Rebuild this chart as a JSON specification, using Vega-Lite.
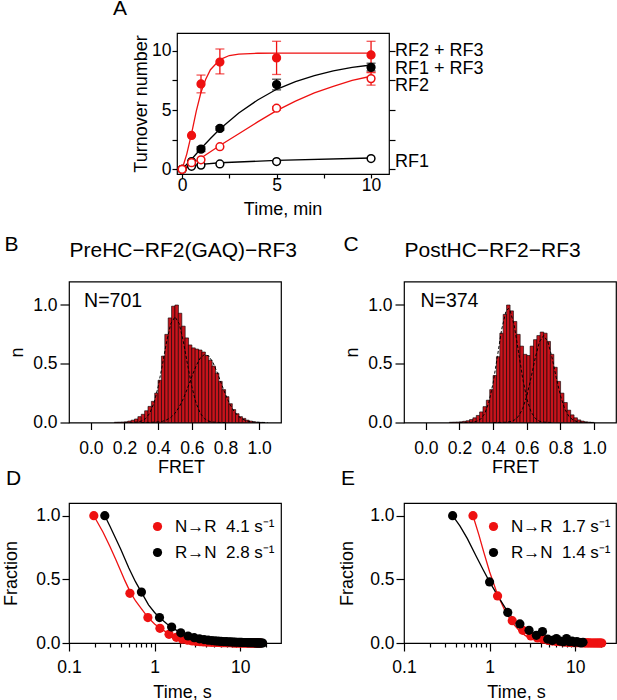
{
  "$schema": "https://vega.github.io/schema/vega-lite/v6.json",
  "background": "white",
  "padding": {"left": 1, "top": -3, "right": 0, "bottom": 0},
  "spacing": 13.5,
  "resolve": {"scale": {"x": "independent", "y": "independent", "color": "independent", "stroke": "independent", "fill": "independent"}},
  "datasets": {
    "fitA": [
      {"s": "RF2 + RF3", "t": 0, "v": 0}, {"s": "RF2 + RF3", "t": 0.25, "v": 1.3}, {"s": "RF2 + RF3", "t": 0.5, "v": 3.0},
      {"s": "RF2 + RF3", "t": 0.75, "v": 4.9}, {"s": "RF2 + RF3", "t": 1, "v": 6.5}, {"s": "RF2 + RF3", "t": 1.25, "v": 7.6},
      {"s": "RF2 + RF3", "t": 1.5, "v": 8.4}, {"s": "RF2 + RF3", "t": 2, "v": 9.25}, {"s": "RF2 + RF3", "t": 2.5, "v": 9.6},
      {"s": "RF2 + RF3", "t": 3, "v": 9.72}, {"s": "RF2 + RF3", "t": 4, "v": 9.79}, {"s": "RF2 + RF3", "t": 5, "v": 9.8},
      {"s": "RF2 + RF3", "t": 10, "v": 9.8},
      {"s": "RF1 + RF3", "t": 0, "v": 0}, {"s": "RF1 + RF3", "t": 0.5, "v": 0.85}, {"s": "RF1 + RF3", "t": 1, "v": 1.75},
      {"s": "RF1 + RF3", "t": 1.5, "v": 2.6}, {"s": "RF1 + RF3", "t": 2, "v": 3.4}, {"s": "RF1 + RF3", "t": 3, "v": 4.75},
      {"s": "RF1 + RF3", "t": 4, "v": 5.85}, {"s": "RF1 + RF3", "t": 5, "v": 6.75}, {"s": "RF1 + RF3", "t": 6, "v": 7.4},
      {"s": "RF1 + RF3", "t": 7, "v": 7.9}, {"s": "RF1 + RF3", "t": 8, "v": 8.3}, {"s": "RF1 + RF3", "t": 9, "v": 8.6},
      {"s": "RF1 + RF3", "t": 10, "v": 8.8},
      {"s": "RF2", "t": 0, "v": 0}, {"s": "RF2", "t": 0.5, "v": 0.45}, {"s": "RF2", "t": 1, "v": 0.95}, {"s": "RF2", "t": 2, "v": 2.0},
      {"s": "RF2", "t": 3, "v": 3.0}, {"s": "RF2", "t": 4, "v": 4.0}, {"s": "RF2", "t": 5, "v": 4.95}, {"s": "RF2", "t": 6, "v": 5.75},
      {"s": "RF2", "t": 7, "v": 6.45}, {"s": "RF2", "t": 8, "v": 7.0}, {"s": "RF2", "t": 9, "v": 7.5}, {"s": "RF2", "t": 10, "v": 7.85},
      {"s": "RF1", "t": 0, "v": 0}, {"s": "RF1", "t": 0.5, "v": 0.3}, {"s": "RF1", "t": 1, "v": 0.42}, {"s": "RF1", "t": 2, "v": 0.55},
      {"s": "RF1", "t": 5, "v": 0.75}, {"s": "RF1", "t": 10, "v": 0.95}
    ],
    "ptsA": [
      {"s": "RF1", "t": 0, "v": 0}, {"s": "RF1", "t": 0.5, "v": 0.25}, {"s": "RF1", "t": 1, "v": 0.35}, {"s": "RF1", "t": 2, "v": 0.45},
      {"s": "RF1", "t": 5, "v": 0.65}, {"s": "RF1", "t": 10, "v": 0.9},
      {"s": "RF1 + RF3", "t": 0, "v": 0}, {"s": "RF1 + RF3", "t": 0.5, "v": 0.65}, {"s": "RF1 + RF3", "t": 1, "v": 1.7},
      {"s": "RF1 + RF3", "t": 2, "v": 3.45}, {"s": "RF1 + RF3", "t": 5, "v": 7.15}, {"s": "RF1 + RF3", "t": 10, "v": 8.6},
      {"s": "RF2 + RF3", "t": 0, "v": 0}, {"s": "RF2 + RF3", "t": 0.5, "v": 2.85}, {"s": "RF2 + RF3", "t": 1, "v": 7.2},
      {"s": "RF2 + RF3", "t": 2, "v": 9.05}, {"s": "RF2 + RF3", "t": 5, "v": 9.4}, {"s": "RF2 + RF3", "t": 10, "v": 9.65},
      {"s": "RF2", "t": 0, "v": 0}, {"s": "RF2", "t": 0.5, "v": 0.55}, {"s": "RF2", "t": 1, "v": 0.8}, {"s": "RF2", "t": 2, "v": 1.9},
      {"s": "RF2", "t": 5, "v": 5.15}, {"s": "RF2", "t": 10, "v": 7.65}
    ],
    "errA": [
      {"s": "RF2 + RF3", "t": 1, "lo": 6.45, "hi": 7.95}, {"s": "RF2 + RF3", "t": 2, "lo": 8.05, "hi": 10.15},
      {"s": "RF2 + RF3", "t": 5, "lo": 8.0, "hi": 10.8}, {"s": "RF2 + RF3", "t": 10, "lo": 8.15, "hi": 10.8},
      {"s": "RF1 + RF3", "t": 1, "lo": 1.5, "hi": 1.9}, {"s": "RF1 + RF3", "t": 2, "lo": 3.3, "hi": 3.6},
      {"s": "RF1 + RF3", "t": 5, "lo": 6.7, "hi": 7.6}, {"s": "RF1 + RF3", "t": 10, "lo": 8.3, "hi": 8.95},
      {"s": "RF2", "t": 5, "lo": 5.0, "hi": 5.3}, {"s": "RF2", "t": 10, "lo": 7.1, "hi": 8.2}
    ],
    "labA": [
      {"label": "RF2 + RF3", "v": 10.0}, {"label": "RF1 + RF3", "v": 8.45}, {"label": "RF2", "v": 7.05}, {"label": "RF1", "v": 0.65}
    ],
    "histB": [
      {"x": 0.15, "n": 0.002}, {"x": 0.17, "n": 0.003}, {"x": 0.19, "n": 0.004}, {"x": 0.21, "n": 0.006}, {"x": 0.23, "n": 0.012},
      {"x": 0.25, "n": 0.02}, {"x": 0.27, "n": 0.03}, {"x": 0.29, "n": 0.05}, {"x": 0.31, "n": 0.07}, {"x": 0.33, "n": 0.1},
      {"x": 0.35, "n": 0.137}, {"x": 0.37, "n": 0.18}, {"x": 0.39, "n": 0.25}, {"x": 0.41, "n": 0.36}, {"x": 0.43, "n": 0.565},
      {"x": 0.45, "n": 0.75}, {"x": 0.47, "n": 0.89}, {"x": 0.49, "n": 0.99}, {"x": 0.51, "n": 1.0}, {"x": 0.53, "n": 0.93},
      {"x": 0.55, "n": 0.82}, {"x": 0.57, "n": 0.72}, {"x": 0.59, "n": 0.66}, {"x": 0.61, "n": 0.635}, {"x": 0.63, "n": 0.625},
      {"x": 0.65, "n": 0.617}, {"x": 0.67, "n": 0.6}, {"x": 0.69, "n": 0.57}, {"x": 0.71, "n": 0.53}, {"x": 0.73, "n": 0.48},
      {"x": 0.75, "n": 0.42}, {"x": 0.77, "n": 0.35}, {"x": 0.79, "n": 0.28}, {"x": 0.81, "n": 0.22}, {"x": 0.83, "n": 0.16},
      {"x": 0.85, "n": 0.11}, {"x": 0.87, "n": 0.075}, {"x": 0.89, "n": 0.05}, {"x": 0.91, "n": 0.035}, {"x": 0.93, "n": 0.02},
      {"x": 0.95, "n": 0.012}, {"x": 0.97, "n": 0.006}, {"x": 0.99, "n": 0.003}, {"x": 1.01, "n": 0.001}
    ],
    "gaussB": [
      {"c": "g1", "x": 0.2, "g": 0}, {"c": "g1", "x": 0.25, "g": 0.001}, {"c": "g1", "x": 0.275, "g": 0.004}, {"c": "g1", "x": 0.3, "g": 0.012},
      {"c": "g1", "x": 0.325, "g": 0.033}, {"c": "g1", "x": 0.35, "g": 0.079}, {"c": "g1", "x": 0.375, "g": 0.166}, {"c": "g1", "x": 0.4, "g": 0.305},
      {"c": "g1", "x": 0.425, "g": 0.49}, {"c": "g1", "x": 0.45, "g": 0.687}, {"c": "g1", "x": 0.475, "g": 0.841}, {"c": "g1", "x": 0.5, "g": 0.9},
      {"c": "g1", "x": 0.525, "g": 0.841}, {"c": "g1", "x": 0.55, "g": 0.687}, {"c": "g1", "x": 0.575, "g": 0.49}, {"c": "g1", "x": 0.6, "g": 0.305},
      {"c": "g1", "x": 0.625, "g": 0.166}, {"c": "g1", "x": 0.65, "g": 0.079}, {"c": "g1", "x": 0.675, "g": 0.033}, {"c": "g1", "x": 0.7, "g": 0.012},
      {"c": "g1", "x": 0.725, "g": 0.004}, {"c": "g1", "x": 0.75, "g": 0.001}, {"c": "g1", "x": 0.8, "g": 0},
      {"c": "g2", "x": 0.3, "g": 0}, {"c": "g2", "x": 0.35, "g": 0.001}, {"c": "g2", "x": 0.4, "g": 0.005}, {"c": "g2", "x": 0.425, "g": 0.01},
      {"c": "g2", "x": 0.45, "g": 0.022}, {"c": "g2", "x": 0.475, "g": 0.043}, {"c": "g2", "x": 0.5, "g": 0.078}, {"c": "g2", "x": 0.525, "g": 0.132},
      {"c": "g2", "x": 0.55, "g": 0.204}, {"c": "g2", "x": 0.575, "g": 0.294}, {"c": "g2", "x": 0.6, "g": 0.391}, {"c": "g2", "x": 0.625, "g": 0.481},
      {"c": "g2", "x": 0.65, "g": 0.549}, {"c": "g2", "x": 0.675, "g": 0.579}, {"c": "g2", "x": 0.7, "g": 0.566}, {"c": "g2", "x": 0.725, "g": 0.512},
      {"c": "g2", "x": 0.75, "g": 0.429}, {"c": "g2", "x": 0.775, "g": 0.332}, {"c": "g2", "x": 0.8, "g": 0.238}, {"c": "g2", "x": 0.825, "g": 0.158},
      {"c": "g2", "x": 0.85, "g": 0.097}, {"c": "g2", "x": 0.875, "g": 0.055}, {"c": "g2", "x": 0.9, "g": 0.029}, {"c": "g2", "x": 0.925, "g": 0.014},
      {"c": "g2", "x": 0.95, "g": 0.006}, {"c": "g2", "x": 0.975, "g": 0.003}, {"c": "g2", "x": 1.0, "g": 0.001}, {"c": "g2", "x": 1.05, "g": 0}
    ],
    "histC": [
      {"x": 0.15, "n": 0.002}, {"x": 0.17, "n": 0.003}, {"x": 0.19, "n": 0.004}, {"x": 0.21, "n": 0.006}, {"x": 0.23, "n": 0.01},
      {"x": 0.25, "n": 0.015}, {"x": 0.27, "n": 0.025}, {"x": 0.29, "n": 0.04}, {"x": 0.31, "n": 0.06}, {"x": 0.33, "n": 0.09},
      {"x": 0.35, "n": 0.135}, {"x": 0.37, "n": 0.19}, {"x": 0.39, "n": 0.28}, {"x": 0.41, "n": 0.4}, {"x": 0.43, "n": 0.56},
      {"x": 0.45, "n": 0.76}, {"x": 0.47, "n": 0.92}, {"x": 0.49, "n": 1.0}, {"x": 0.51, "n": 0.95}, {"x": 0.53, "n": 0.86},
      {"x": 0.55, "n": 0.75}, {"x": 0.57, "n": 0.65}, {"x": 0.59, "n": 0.58}, {"x": 0.61, "n": 0.57}, {"x": 0.63, "n": 0.65},
      {"x": 0.65, "n": 0.705}, {"x": 0.67, "n": 0.74}, {"x": 0.69, "n": 0.77}, {"x": 0.71, "n": 0.76}, {"x": 0.73, "n": 0.69},
      {"x": 0.75, "n": 0.58}, {"x": 0.77, "n": 0.47}, {"x": 0.79, "n": 0.35}, {"x": 0.81, "n": 0.25}, {"x": 0.83, "n": 0.17},
      {"x": 0.85, "n": 0.105}, {"x": 0.87, "n": 0.065}, {"x": 0.89, "n": 0.04}, {"x": 0.91, "n": 0.022}, {"x": 0.93, "n": 0.012},
      {"x": 0.95, "n": 0.006}, {"x": 0.97, "n": 0.003}, {"x": 0.99, "n": 0.001}
    ],
    "gaussC": [
      {"c": "g1", "x": 0.2, "g": 0}, {"c": "g1", "x": 0.25, "g": 0.001}, {"c": "g1", "x": 0.275, "g": 0.002}, {"c": "g1", "x": 0.3, "g": 0.009},
      {"c": "g1", "x": 0.325, "g": 0.028}, {"c": "g1", "x": 0.35, "g": 0.076}, {"c": "g1", "x": 0.375, "g": 0.174}, {"c": "g1", "x": 0.4, "g": 0.338},
      {"c": "g1", "x": 0.425, "g": 0.56}, {"c": "g1", "x": 0.45, "g": 0.788}, {"c": "g1", "x": 0.475, "g": 0.942}, {"c": "g1", "x": 0.49, "g": 0.97},
      {"c": "g1", "x": 0.5, "g": 0.957}, {"c": "g1", "x": 0.525, "g": 0.827}, {"c": "g1", "x": 0.55, "g": 0.607}, {"c": "g1", "x": 0.575, "g": 0.379},
      {"c": "g1", "x": 0.6, "g": 0.201}, {"c": "g1", "x": 0.625, "g": 0.091}, {"c": "g1", "x": 0.65, "g": 0.035}, {"c": "g1", "x": 0.675, "g": 0.011},
      {"c": "g1", "x": 0.7, "g": 0.003}, {"c": "g1", "x": 0.75, "g": 0},
      {"c": "g2", "x": 0.4, "g": 0}, {"c": "g2", "x": 0.45, "g": 0.001}, {"c": "g2", "x": 0.475, "g": 0.002}, {"c": "g2", "x": 0.5, "g": 0.007},
      {"c": "g2", "x": 0.525, "g": 0.02}, {"c": "g2", "x": 0.55, "g": 0.052}, {"c": "g2", "x": 0.575, "g": 0.116}, {"c": "g2", "x": 0.6, "g": 0.227},
      {"c": "g2", "x": 0.625, "g": 0.38}, {"c": "g2", "x": 0.65, "g": 0.55}, {"c": "g2", "x": 0.675, "g": 0.687}, {"c": "g2", "x": 0.7, "g": 0.74},
      {"c": "g2", "x": 0.725, "g": 0.687}, {"c": "g2", "x": 0.75, "g": 0.55}, {"c": "g2", "x": 0.775, "g": 0.38}, {"c": "g2", "x": 0.8, "g": 0.227},
      {"c": "g2", "x": 0.825, "g": 0.116}, {"c": "g2", "x": 0.85, "g": 0.052}, {"c": "g2", "x": 0.875, "g": 0.02}, {"c": "g2", "x": 0.9, "g": 0.007},
      {"c": "g2", "x": 0.925, "g": 0.002}, {"c": "g2", "x": 0.95, "g": 0}, {"c": "g2", "x": 1.0, "g": 0}
    ],
    "ptsD": [
      {"s": "N→R", "t": 0.195, "v": 1.0}, {"s": "N→R", "t": 0.515, "v": 0.39}, {"s": "N→R", "t": 0.835, "v": 0.2}, {"s": "N→R", "t": 1.155, "v": 0.115},
      {"s": "N→R", "t": 1.475, "v": 0.068}, {"s": "N→R", "t": 1.795, "v": 0.045}, {"s": "N→R", "t": 2.115, "v": 0.03}, {"s": "N→R", "t": 2.435, "v": 0.022},
      {"s": "N→R", "t": 2.755, "v": 0.016}, {"s": "N→R", "t": 3.075, "v": 0.012}, {"s": "N→R", "t": 3.395, "v": 0.01}, {"s": "N→R", "t": 3.715, "v": 0.008},
      {"s": "N→R", "t": 4.035, "v": 0.007}, {"s": "N→R", "t": 4.355, "v": 0.006}, {"s": "N→R", "t": 4.675, "v": 0.005}, {"s": "N→R", "t": 4.995, "v": 0.005},
      {"s": "N→R", "t": 5.315, "v": 0.004}, {"s": "N→R", "t": 5.635, "v": 0.004}, {"s": "N→R", "t": 5.955, "v": 0.003}, {"s": "N→R", "t": 6.275, "v": 0.003},
      {"s": "N→R", "t": 6.595, "v": 0.003}, {"s": "N→R", "t": 6.915, "v": 0.002}, {"s": "N→R", "t": 7.235, "v": 0.002}, {"s": "N→R", "t": 7.555, "v": 0.002},
      {"s": "N→R", "t": 7.875, "v": 0.002}, {"s": "N→R", "t": 8.195, "v": 0.001}, {"s": "N→R", "t": 8.515, "v": 0.001}, {"s": "N→R", "t": 8.835, "v": 0.001},
      {"s": "N→R", "t": 9.155, "v": 0.001}, {"s": "N→R", "t": 9.475, "v": 0.001}, {"s": "N→R", "t": 9.795, "v": 0.001}, {"s": "N→R", "t": 10.115, "v": 0.001},
      {"s": "N→R", "t": 10.435, "v": 0.001}, {"s": "N→R", "t": 10.755, "v": 0}, {"s": "N→R", "t": 11.075, "v": 0}, {"s": "N→R", "t": 11.395, "v": 0},
      {"s": "N→R", "t": 11.715, "v": 0}, {"s": "N→R", "t": 12.035, "v": 0}, {"s": "N→R", "t": 12.355, "v": 0}, {"s": "N→R", "t": 12.675, "v": 0},
      {"s": "N→R", "t": 12.995, "v": 0}, {"s": "N→R", "t": 13.315, "v": 0}, {"s": "N→R", "t": 13.635, "v": 0}, {"s": "N→R", "t": 13.955, "v": 0},
      {"s": "N→R", "t": 14.275, "v": 0}, {"s": "N→R", "t": 14.595, "v": 0}, {"s": "N→R", "t": 14.915, "v": 0}, {"s": "N→R", "t": 15.235, "v": 0},
      {"s": "N→R", "t": 15.555, "v": 0}, {"s": "N→R", "t": 15.875, "v": 0}, {"s": "N→R", "t": 16.195, "v": 0}, {"s": "N→R", "t": 16.515, "v": 0},
      {"s": "N→R", "t": 16.835, "v": 0}, {"s": "N→R", "t": 17.155, "v": 0},
      {"s": "R→N", "t": 0.262, "v": 1.0}, {"s": "R→N", "t": 0.702, "v": 0.4}, {"s": "R→N", "t": 1.142, "v": 0.2}, {"s": "R→N", "t": 1.582, "v": 0.125},
      {"s": "R→N", "t": 2.022, "v": 0.08}, {"s": "R→N", "t": 2.462, "v": 0.055}, {"s": "R→N", "t": 2.902, "v": 0.042}, {"s": "R→N", "t": 3.342, "v": 0.033},
      {"s": "R→N", "t": 3.782, "v": 0.027}, {"s": "R→N", "t": 4.222, "v": 0.022}, {"s": "R→N", "t": 4.662, "v": 0.019}, {"s": "R→N", "t": 5.102, "v": 0.016},
      {"s": "R→N", "t": 5.542, "v": 0.014}, {"s": "R→N", "t": 5.982, "v": 0.012}, {"s": "R→N", "t": 6.422, "v": 0.011}, {"s": "R→N", "t": 6.862, "v": 0.01},
      {"s": "R→N", "t": 7.302, "v": 0.009}, {"s": "R→N", "t": 7.742, "v": 0.008}, {"s": "R→N", "t": 8.182, "v": 0.007}, {"s": "R→N", "t": 8.622, "v": 0.007},
      {"s": "R→N", "t": 9.062, "v": 0.006}, {"s": "R→N", "t": 9.502, "v": 0.006}, {"s": "R→N", "t": 9.942, "v": 0.005}, {"s": "R→N", "t": 10.382, "v": 0.005},
      {"s": "R→N", "t": 10.822, "v": 0.004}, {"s": "R→N", "t": 11.262, "v": 0.004}, {"s": "R→N", "t": 11.702, "v": 0.004}, {"s": "R→N", "t": 12.142, "v": 0.003},
      {"s": "R→N", "t": 12.582, "v": 0.003}, {"s": "R→N", "t": 13.022, "v": 0.003}, {"s": "R→N", "t": 13.462, "v": 0.002}, {"s": "R→N", "t": 13.902, "v": 0.002},
      {"s": "R→N", "t": 14.342, "v": 0.002}, {"s": "R→N", "t": 14.782, "v": 0.002}, {"s": "R→N", "t": 15.222, "v": 0.001}, {"s": "R→N", "t": 15.662, "v": 0.001},
      {"s": "R→N", "t": 16.102, "v": 0.001}, {"s": "R→N", "t": 16.542, "v": 0.001}, {"s": "R→N", "t": 16.982, "v": 0}, {"s": "R→N", "t": 17.422, "v": 0},
      {"s": "R→N", "t": 17.862, "v": 0}, {"s": "R→N", "t": 18.302, "v": 0}
    ],
    "fitD": [
      {"s": "N→R", "t": 0.195, "v": 1.0}, {"s": "N→R", "t": 0.25, "v": 0.87}, {"s": "N→R", "t": 0.3, "v": 0.76}, {"s": "N→R", "t": 0.35, "v": 0.66},
      {"s": "N→R", "t": 0.4, "v": 0.57}, {"s": "N→R", "t": 0.45, "v": 0.49}, {"s": "N→R", "t": 0.52, "v": 0.4}, {"s": "N→R", "t": 0.6, "v": 0.33},
      {"s": "N→R", "t": 0.7, "v": 0.27}, {"s": "N→R", "t": 0.84, "v": 0.2}, {"s": "N→R", "t": 1.0, "v": 0.15}, {"s": "N→R", "t": 1.16, "v": 0.115},
      {"s": "N→R", "t": 1.5, "v": 0.07}, {"s": "N→R", "t": 2.0, "v": 0.035}, {"s": "N→R", "t": 2.5, "v": 0.018}, {"s": "N→R", "t": 3.0, "v": 0.01},
      {"s": "N→R", "t": 4.0, "v": 0.004}, {"s": "N→R", "t": 6.0, "v": 0.001}, {"s": "N→R", "t": 12.3, "v": 0},
      {"s": "R→N", "t": 0.262, "v": 1.0}, {"s": "R→N", "t": 0.3, "v": 0.92}, {"s": "R→N", "t": 0.4, "v": 0.74}, {"s": "R→N", "t": 0.5, "v": 0.59},
      {"s": "R→N", "t": 0.6, "v": 0.48}, {"s": "R→N", "t": 0.7, "v": 0.4}, {"s": "R→N", "t": 0.85, "v": 0.3}, {"s": "R→N", "t": 1.0, "v": 0.24},
      {"s": "R→N", "t": 1.14, "v": 0.2}, {"s": "R→N", "t": 1.4, "v": 0.15}, {"s": "R→N", "t": 1.58, "v": 0.125}, {"s": "R→N", "t": 2.0, "v": 0.08},
      {"s": "R→N", "t": 2.5, "v": 0.05}, {"s": "R→N", "t": 3.0, "v": 0.035}, {"s": "R→N", "t": 4.0, "v": 0.02}, {"s": "R→N", "t": 5.0, "v": 0.012},
      {"s": "R→N", "t": 7.0, "v": 0.006}, {"s": "R→N", "t": 10.0, "v": 0.003}, {"s": "R→N", "t": 14.0, "v": 0.001}, {"s": "R→N", "t": 18.3, "v": 0}
    ],
    "ptsE": [
      {"s": "N→R", "t": 0.64, "v": 1.0}, {"s": "N→R", "t": 1.24, "v": 0.37}, {"s": "N→R", "t": 1.84, "v": 0.175}, {"s": "N→R", "t": 2.44, "v": 0.1},
      {"s": "N→R", "t": 3.04, "v": 0.055}, {"s": "N→R", "t": 3.64, "v": 0.04}, {"s": "N→R", "t": 4.24, "v": 0.03}, {"s": "N→R", "t": 4.84, "v": 0.02},
      {"s": "N→R", "t": 5.44, "v": 0.015}, {"s": "N→R", "t": 6.04, "v": 0.012}, {"s": "N→R", "t": 6.64, "v": 0.01}, {"s": "N→R", "t": 7.24, "v": 0.008},
      {"s": "N→R", "t": 7.84, "v": 0.006}, {"s": "N→R", "t": 8.44, "v": 0.005}, {"s": "N→R", "t": 9.04, "v": 0.004}, {"s": "N→R", "t": 9.64, "v": 0.003},
      {"s": "N→R", "t": 10.24, "v": 0.003}, {"s": "N→R", "t": 10.84, "v": 0.002}, {"s": "N→R", "t": 11.44, "v": 0.002}, {"s": "N→R", "t": 12.04, "v": 0.002},
      {"s": "N→R", "t": 12.64, "v": 0.001}, {"s": "N→R", "t": 13.24, "v": 0.001}, {"s": "N→R", "t": 13.84, "v": 0.001}, {"s": "N→R", "t": 14.44, "v": 0.001},
      {"s": "N→R", "t": 15.04, "v": 0}, {"s": "N→R", "t": 15.64, "v": 0}, {"s": "N→R", "t": 16.24, "v": 0}, {"s": "N→R", "t": 16.84, "v": 0},
      {"s": "N→R", "t": 17.44, "v": 0}, {"s": "N→R", "t": 18.04, "v": 0}, {"s": "N→R", "t": 18.64, "v": 0}, {"s": "N→R", "t": 19.24, "v": 0},
      {"s": "N→R", "t": 19.84, "v": 0}, {"s": "N→R", "t": 20.44, "v": 0},
      {"s": "R→N", "t": 0.37, "v": 1.0}, {"s": "R→N", "t": 1.0, "v": 0.48}, {"s": "R→N", "t": 1.63, "v": 0.24}, {"s": "R→N", "t": 2.26, "v": 0.15},
      {"s": "R→N", "t": 2.89, "v": 0.1}, {"s": "R→N", "t": 3.52, "v": 0.06}, {"s": "R→N", "t": 4.15, "v": 0.09}, {"s": "R→N", "t": 4.78, "v": 0.03},
      {"s": "R→N", "t": 5.41, "v": 0.02}, {"s": "R→N", "t": 6.04, "v": 0.035}, {"s": "R→N", "t": 6.67, "v": 0.015}, {"s": "R→N", "t": 7.3, "v": 0.01},
      {"s": "R→N", "t": 7.93, "v": 0.035}, {"s": "R→N", "t": 8.56, "v": 0.01}, {"s": "R→N", "t": 9.19, "v": 0.015}, {"s": "R→N", "t": 9.82, "v": 0.005},
      {"s": "R→N", "t": 10.45, "v": 0.01}, {"s": "R→N", "t": 11.08, "v": 0.005}, {"s": "R→N", "t": 11.71, "v": 0}, {"s": "R→N", "t": 12.34, "v": 0.005}
    ],
    "fitE": [
      {"s": "N→R", "t": 0.64, "v": 1.0}, {"s": "N→R", "t": 0.75, "v": 0.85}, {"s": "N→R", "t": 0.85, "v": 0.72}, {"s": "N→R", "t": 1.0, "v": 0.56},
      {"s": "N→R", "t": 1.24, "v": 0.38}, {"s": "N→R", "t": 1.5, "v": 0.26}, {"s": "N→R", "t": 1.84, "v": 0.16}, {"s": "N→R", "t": 2.2, "v": 0.1},
      {"s": "N→R", "t": 2.6, "v": 0.06}, {"s": "N→R", "t": 3.0, "v": 0.035}, {"s": "N→R", "t": 3.6, "v": 0.018}, {"s": "N→R", "t": 4.5, "v": 0.007},
      {"s": "N→R", "t": 6.0, "v": 0.002}, {"s": "N→R", "t": 10.0, "v": 0}, {"s": "N→R", "t": 20.4, "v": 0},
      {"s": "R→N", "t": 0.37, "v": 1.0}, {"s": "R→N", "t": 0.45, "v": 0.92}, {"s": "R→N", "t": 0.55, "v": 0.82}, {"s": "R→N", "t": 0.7, "v": 0.68},
      {"s": "R→N", "t": 0.85, "v": 0.57}, {"s": "R→N", "t": 1.0, "v": 0.48}, {"s": "R→N", "t": 1.3, "v": 0.35}, {"s": "R→N", "t": 1.63, "v": 0.245},
      {"s": "R→N", "t": 2.0, "v": 0.17}, {"s": "R→N", "t": 2.5, "v": 0.105}, {"s": "R→N", "t": 3.0, "v": 0.065}, {"s": "R→N", "t": 3.5, "v": 0.04},
      {"s": "R→N", "t": 4.5, "v": 0.016}, {"s": "R→N", "t": 6.0, "v": 0.005}, {"s": "R→N", "t": 8.0, "v": 0.001}, {"s": "R→N", "t": 12.3, "v": 0}
    ]
  },
  "vconcat": [
    {
      "spacing": 0,
      "bounds": "flush",
      "resolve": {"scale": {"x": "independent", "y": "independent", "color": "independent", "stroke": "independent", "fill": "independent"}},
      "hconcat": [
        {"width": 108, "height": 1, "data": {"values": []}, "mark": {"type": "point", "opacity": 0}, "view": {"stroke": null}},
        {
          "width": 212, "height": 141,
          "title": {"text": "A", "dx": -64, "offset": 14},
          "layer": [
            {
              "data": {"name": "fitA"},
              "mark": {"type": "line", "strokeWidth": 1.3},
              "encoding": {
                "x": {"field": "t", "type": "quantitative", "scale": {"domain": [-0.27, 10.95], "nice": false, "zero": false},
                  "axis": {"orient": "bottom", "values": [0, 2.5, 5, 7.5, 10], "format": "d", "labelExpr": "datum.value % 5 == 0 ? datum.label : ''", "tickSize": 4, "labelPadding": -2,
                    "title": "Time, min", "titleX": 105.5, "titleY": 40, "titleBaseline": "alphabetic"}},
                "y": {"field": "v", "type": "quantitative", "scale": {"domain": [-0.4, 11.5], "nice": false, "zero": false},
                  "axis": {"orient": "left", "values": [0, 2.5, 5, 7.5, 10], "format": "d", "labelExpr": "datum.value % 5 == 0 ? datum.label : ''", "tickSize": 5, "labelPadding": 1,
                    "title": "Turnover number", "titleX": -36, "titleBaseline": "middle"}},
                "stroke": {"field": "s", "type": "nominal", "legend": null,
                  "scale": {"domain": ["RF2 + RF3", "RF1 + RF3", "RF2", "RF1"], "range": ["#ee1111", "#000000", "#ee1111", "#000000"]}}
              }
            },
            {
              "data": {"name": "errA"},
              "mark": {"type": "rule", "strokeWidth": 1.3},
              "encoding": {
                "x": {"field": "t", "type": "quantitative", "scale": {"domain": [-0.27, 10.95], "nice": false, "zero": false}, "axis": null},
                "y": {"field": "lo", "type": "quantitative", "scale": {"domain": [-0.4, 11.5], "nice": false, "zero": false},
                  "axis": {"orient": "right", "values": [0, 2.5, 5, 7.5, 10], "labels": false, "tickSize": 6, "title": null}},
                "y2": {"field": "hi"},
                "stroke": {"field": "s", "type": "nominal", "legend": null}
              }
            },
            {
              "data": {"name": "errA"},
              "mark": {"type": "tick", "orient": "horizontal", "size": 9, "thickness": 1.3},
              "encoding": {
                "x": {"field": "t", "type": "quantitative", "scale": {"domain": [-0.27, 10.95], "nice": false, "zero": false}, "axis": null},
                "y": {"field": "lo", "type": "quantitative", "scale": {"domain": [-0.4, 11.5], "nice": false, "zero": false}, "axis": null},
                "color": {"field": "s", "type": "nominal", "legend": null,
                  "scale": {"domain": ["RF2 + RF3", "RF1 + RF3", "RF2", "RF1"], "range": ["#ee1111", "#000000", "#ee1111", "#000000"]}}
              }
            },
            {
              "data": {"name": "errA"},
              "mark": {"type": "tick", "orient": "horizontal", "size": 9, "thickness": 1.3},
              "encoding": {
                "x": {"field": "t", "type": "quantitative", "scale": {"domain": [-0.27, 10.95], "nice": false, "zero": false}, "axis": null},
                "y": {"field": "hi", "type": "quantitative", "scale": {"domain": [-0.4, 11.5], "nice": false, "zero": false}, "axis": null},
                "color": {"field": "s", "type": "nominal", "legend": null}
              }
            },
            {
              "data": {"name": "ptsA"},
              "mark": {"type": "point", "shape": "circle", "filled": true, "size": 60, "strokeWidth": 1.5, "opacity": 1},
              "encoding": {
                "x": {"field": "t", "type": "quantitative", "scale": {"domain": [-0.27, 10.95], "nice": false, "zero": false}, "axis": null},
                "y": {"field": "v", "type": "quantitative", "scale": {"domain": [-0.4, 11.5], "nice": false, "zero": false}, "axis": null},
                "fill": {"field": "s", "type": "nominal", "legend": null,
                  "scale": {"domain": ["RF2 + RF3", "RF1 + RF3", "RF2", "RF1"], "range": ["#ee1111", "#000000", "#ffffff", "#ffffff"]}},
                "stroke": {"field": "s", "type": "nominal", "legend": null}
              }
            },
            {
              "data": {"name": "labA"},
              "mark": {"type": "text", "align": "left", "baseline": "middle", "dx": 6, "fontSize": 18, "clip": false},
              "encoding": {
                "x": {"datum": 10.95, "type": "quantitative", "scale": {"domain": [-0.27, 10.95], "nice": false, "zero": false}, "axis": null},
                "y": {"field": "v", "type": "quantitative", "scale": {"domain": [-0.4, 11.5], "nice": false, "zero": false}, "axis": null},
                "text": {"field": "label"}
              }
            }
          ],
          "resolve": {"axis": {"x": "independent", "y": "independent"}}
        }
      ]
    },
    {
      "spacing": -10.5,
      "resolve": {"scale": {"x": "independent", "y": "independent", "color": "independent", "stroke": "independent", "fill": "independent"}},
      "vconcat": [
        {
          "spacing": 123,
          "bounds": "flush",
          "resolve": {"scale": {"x": "independent", "y": "independent", "color": "independent", "stroke": "independent", "fill": "independent"}},
          "hconcat": [
            {
              "width": 212, "height": 141,
              "layer": [
                {
                  "data": {"name": "histB"},
                  "mark": {"type": "bar", "orient": "vertical", "size": 3.53, "fill": "#c8141c", "stroke": "#000000", "strokeWidth": 0.6},
                  "encoding": {
                    "x": {"field": "x", "type": "quantitative", "scale": {"domain": [-0.1, 1.1], "nice": false, "zero": false},
                      "axis": {"orient": "bottom", "values": [0, 0.2, 0.4, 0.6, 0.8, 1], "format": ".1f", "tickSize": 7, "labelPadding": 9.5,
                        "title": "FRET", "titleX": 112, "titleY": 50, "titleBaseline": "alphabetic"}},
                    "y": {"field": "n", "type": "quantitative", "scale": {"domain": [0, 1.2], "nice": false},
                      "axis": {"orient": "left", "values": [0, 0.5, 1], "format": ".1f", "tickSize": 9, "labelPadding": 3, "title": "n", "titleX": -51.5, "titleBaseline": "middle"}}
                  }
                },
                {
                  "data": {"name": "gaussB"},
                  "mark": {"type": "line", "stroke": "#000000", "strokeWidth": 1, "strokeDash": [3, 2]},
                  "encoding": {
                    "x": {"field": "x", "type": "quantitative", "scale": {"domain": [-0.1, 1.1], "nice": false, "zero": false},
                      "axis": {"orient": "top", "labels": false, "ticks": false, "title": "PreHC−RF2(GAQ)−RF3", "titleFontSize": 21,
                        "titleX": 0, "titleY": -25, "titleAlign": "left", "titleBaseline": "alphabetic"}},
                    "y": {"field": "g", "type": "quantitative", "scale": {"domain": [0, 1.2], "nice": false},
                      "axis": {"orient": "left", "labels": false, "ticks": false, "title": "B", "titleFontSize": 21, "titleAngle": 0,
                        "titleX": -65, "titleY": -31, "titleAlign": "left", "titleBaseline": "alphabetic"}},
                    "detail": {"field": "c"}
                  }
                },
                {
                  "data": {"values": [{"label": "N=701"}]},
                  "mark": {"type": "text", "align": "left", "baseline": "alphabetic", "fontSize": 19.5},
                  "encoding": {
                    "x": {"datum": -0.04, "type": "quantitative", "axis": null},
                    "y": {"datum": 0.98, "type": "quantitative", "axis": null},
                    "text": {"field": "label"}
                  }
                }
              ],
              "resolve": {"axis": {"x": "independent", "y": "independent"}}
            },
            {
              "width": 212, "height": 141,
              "layer": [
                {
                  "data": {"name": "histC"},
                  "mark": {"type": "bar", "orient": "vertical", "size": 3.53, "fill": "#c8141c", "stroke": "#000000", "strokeWidth": 0.6},
                  "encoding": {
                    "x": {"field": "x", "type": "quantitative", "scale": {"domain": [-0.1, 1.1], "nice": false, "zero": false},
                      "axis": {"orient": "bottom", "values": [0, 0.2, 0.4, 0.6, 0.8, 1], "format": ".1f", "tickSize": 7, "labelPadding": 9.5,
                        "title": "FRET", "titleX": 111, "titleY": 50, "titleBaseline": "alphabetic"}},
                    "y": {"field": "n", "type": "quantitative", "scale": {"domain": [0, 1.2], "nice": false},
                      "axis": {"orient": "left", "values": [0, 0.5, 1], "format": ".1f", "tickSize": 9, "labelPadding": 3, "title": "n", "titleX": -52, "titleBaseline": "middle"}}
                  }
                },
                {
                  "data": {"name": "gaussC"},
                  "mark": {"type": "line", "stroke": "#000000", "strokeWidth": 1, "strokeDash": [3, 2]},
                  "encoding": {
                    "x": {"field": "x", "type": "quantitative", "scale": {"domain": [-0.1, 1.1], "nice": false, "zero": false},
                      "axis": {"orient": "top", "labels": false, "ticks": false, "title": "PostHC−RF2−RF3", "titleFontSize": 21,
                        "titleX": 0, "titleY": -25, "titleAlign": "left", "titleBaseline": "alphabetic"}},
                    "y": {"field": "g", "type": "quantitative", "scale": {"domain": [0, 1.2], "nice": false},
                      "axis": {"orient": "left", "labels": false, "ticks": false, "title": "C", "titleFontSize": 21, "titleAngle": 0,
                        "titleX": -61, "titleY": -31, "titleAlign": "left", "titleBaseline": "alphabetic"}},
                    "detail": {"field": "c"}
                  }
                },
                {
                  "data": {"values": [{"label": "N=374"}]},
                  "mark": {"type": "text", "align": "left", "baseline": "alphabetic", "fontSize": 19.5},
                  "encoding": {
                    "x": {"datum": -0.032, "type": "quantitative", "axis": null},
                    "y": {"datum": 0.98, "type": "quantitative", "axis": null},
                    "text": {"field": "label"}
                  }
                }
              ],
              "resolve": {"axis": {"x": "independent", "y": "independent"}}
            }
          ]
        },
        {
          "spacing": 123,
          "bounds": "flush",
          "resolve": {"scale": {"x": "independent", "y": "independent", "color": "independent", "stroke": "independent", "fill": "independent"}},
          "hconcat": [
            {
              "width": 212, "height": 140,
              "title": {"text": "D", "dx": -63, "offset": 14},
              "layer": [
                {
                  "data": {"name": "fitD"},
                  "transform": [{"filter": "datum.s == 'N→R'"}],
                  "mark": {"type": "line", "strokeWidth": 1.3, "stroke": "#ee1111"},
                  "encoding": {
                    "x": {"field": "t", "type": "quantitative", "scale": {"type": "log", "domain": [0.1, 30], "nice": false},
                      "axis": {"orient": "bottom", "values": [0.2, 0.3, 0.4, 0.5, 0.6, 0.7, 0.8, 0.9, 2, 3, 4, 5, 6, 7, 8, 9, 20], "labels": false, "tickSize": 4, "title": null}},
                    "y": {"field": "v", "type": "quantitative", "scale": {"domain": [0, 1.1], "nice": false}, "axis": null}
                  }
                },
                {
                  "data": {"name": "fitD"},
                  "transform": [{"filter": "datum.s == 'R→N'"}],
                  "mark": {"type": "line", "strokeWidth": 1.3, "stroke": "#000000"},
                  "encoding": {
                    "x": {"field": "t", "type": "quantitative", "scale": {"type": "log", "domain": [0.1, 30], "nice": false}, "axis": null},
                    "y": {"field": "v", "type": "quantitative", "scale": {"domain": [0, 1.1], "nice": false}, "axis": null}
                  }
                },
                {
                  "data": {"name": "ptsD"},
                  "mark": {"type": "circle", "size": 85, "opacity": 1},
                  "encoding": {
                    "x": {"field": "t", "type": "quantitative", "scale": {"type": "log", "domain": [0.1, 30], "nice": false},
                      "axis": {"orient": "bottom", "values": [0.1, 1, 10], "format": ".1~f", "tickSize": 8, "labelPadding": 7, "title": "Time, s", "titleX": 113, "titleY": 54, "titleBaseline": "alphabetic"}},
                    "y": {"field": "v", "type": "quantitative", "scale": {"domain": [0, 1.1], "nice": false},
                      "axis": {"orient": "left", "values": [0, 0.5, 1], "format": ".1f", "tickSize": 7, "labelPadding": 2, "title": "Fraction", "titleX": -58, "titleBaseline": "middle"}},
                    "color": {"field": "s", "type": "nominal", "scale": {"domain": ["N→R", "R→N"], "range": ["#ee1111", "#000000"]},
                      "legend": {"orient": "none", "legendX": 80, "legendY": 15, "title": null,
                        "labelExpr": "datum.label == 'N→R' ? 'N→R\u00a0\u00a04.1 s⁻¹' : 'R→N\u00a0\u00a02.8 s⁻¹'"}}
                  }
                }
              ],
              "resolve": {"axis": {"x": "independent", "y": "independent"}}
            },
            {
              "width": 212, "height": 140,
              "title": {"text": "E", "dx": -63, "offset": 14},
              "layer": [
                {
                  "data": {"name": "fitE"},
                  "transform": [{"filter": "datum.s == 'N→R'"}],
                  "mark": {"type": "line", "strokeWidth": 1.3, "stroke": "#ee1111"},
                  "encoding": {
                    "x": {"field": "t", "type": "quantitative", "scale": {"type": "log", "domain": [0.1, 30], "nice": false},
                      "axis": {"orient": "bottom", "values": [0.2, 0.3, 0.4, 0.5, 0.6, 0.7, 0.8, 0.9, 2, 3, 4, 5, 6, 7, 8, 9, 20], "labels": false, "tickSize": 4, "title": null}},
                    "y": {"field": "v", "type": "quantitative", "scale": {"domain": [0, 1.1], "nice": false}, "axis": null}
                  }
                },
                {
                  "data": {"name": "fitE"},
                  "transform": [{"filter": "datum.s == 'R→N'"}],
                  "mark": {"type": "line", "strokeWidth": 1.3, "stroke": "#000000"},
                  "encoding": {
                    "x": {"field": "t", "type": "quantitative", "scale": {"type": "log", "domain": [0.1, 30], "nice": false}, "axis": null},
                    "y": {"field": "v", "type": "quantitative", "scale": {"domain": [0, 1.1], "nice": false}, "axis": null}
                  }
                },
                {
                  "data": {"name": "ptsE"},
                  "mark": {"type": "circle", "size": 85, "opacity": 1},
                  "encoding": {
                    "x": {"field": "t", "type": "quantitative", "scale": {"type": "log", "domain": [0.1, 30], "nice": false},
                      "axis": {"orient": "bottom", "values": [0.1, 1, 10], "format": ".1~f", "tickSize": 8, "labelPadding": 7, "title": "Time, s", "titleX": 112, "titleY": 54, "titleBaseline": "alphabetic"}},
                    "y": {"field": "v", "type": "quantitative", "scale": {"domain": [0, 1.1], "nice": false},
                      "axis": {"orient": "left", "values": [0, 0.5, 1], "format": ".1f", "tickSize": 8, "labelPadding": 2, "title": "Fraction", "titleX": -57, "titleBaseline": "middle"}},
                    "color": {"field": "s", "type": "nominal", "scale": {"domain": ["N→R", "R→N"], "range": ["#ee1111", "#000000"]},
                      "legend": {"orient": "none", "legendX": 81, "legendY": 15, "title": null,
                        "labelExpr": "datum.label == 'N→R' ? 'N→R\u00a0\u00a01.7 s⁻¹' : 'R→N\u00a0\u00a01.4 s⁻¹'"}}
                  }
                }
              ],
              "resolve": {"axis": {"x": "independent", "y": "independent"}}
            }
          ]
        }
      ]
    }
  ],
  "config": {
    "font": "Liberation Sans",
    "view": {"stroke": "#000000", "strokeWidth": 1.2},
    "axis": {"domain": false, "grid": false, "labelFlush": false, "labelOverlap": false, "tickColor": "#000000", "tickWidth": 1.2,
      "labelColor": "#000000", "titleColor": "#000000", "labelFontSize": 17.5, "titleFontSize": 18, "titleFontWeight": "normal",
      "labelFont": "Liberation Sans", "titleFont": "Liberation Sans"},
    "title": {"font": "Liberation Sans", "fontSize": 21, "fontWeight": "normal", "anchor": "start", "frame": "group", "baseline": "alphabetic", "color": "#000000"},
    "legend": {"symbolSize": 85, "symbolType": "circle", "labelFontSize": 17, "labelFont": "Liberation Sans", "labelColor": "#000000", "labelOffset": 9, "rowPadding": 8, "padding": 0},
    "text": {"font": "Liberation Sans", "color": "#000000"}
  }
}
